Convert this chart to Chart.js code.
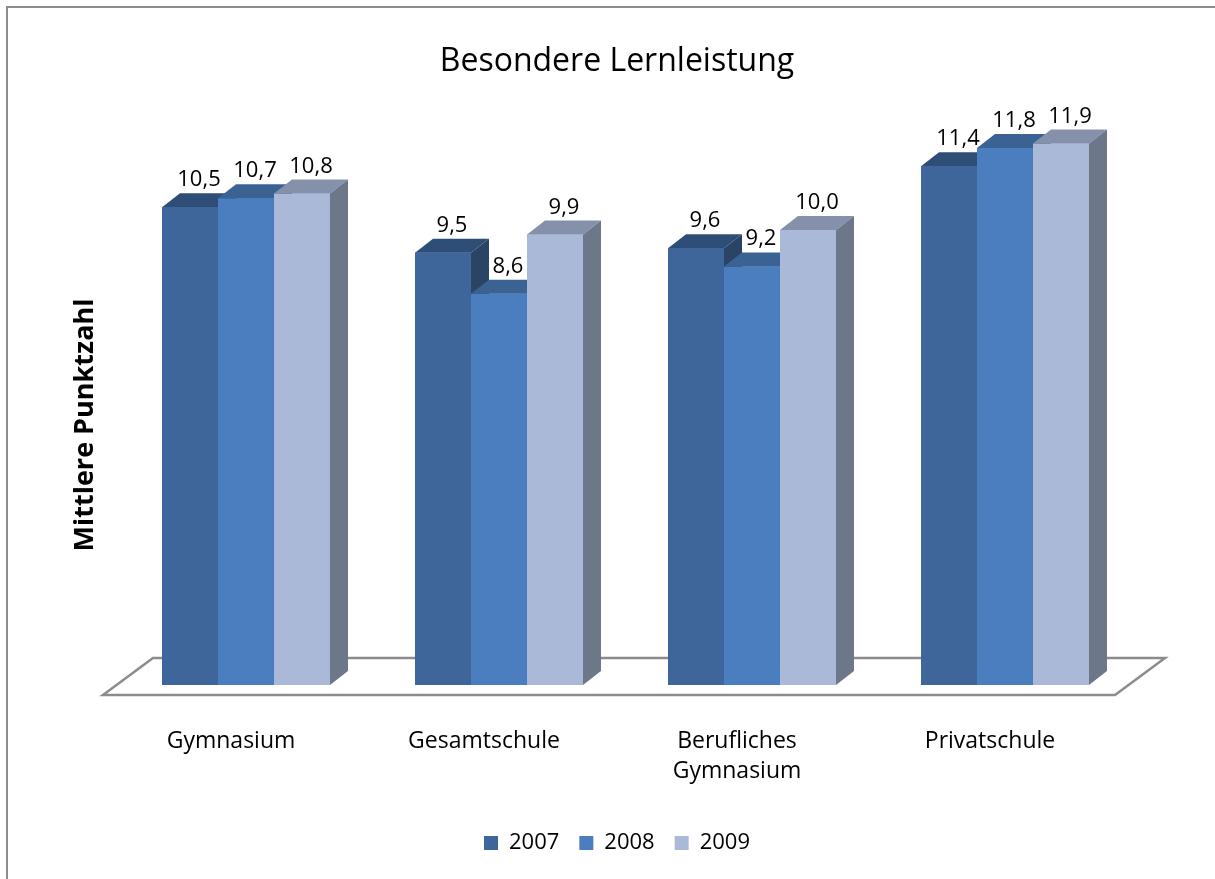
<!DOCTYPE html>
<html>
<head>
<meta charset="utf-8">
<script src="https://cdn.jsdelivr.net/npm/chart.js@4/dist/chart.umd.min.js"></script>
<style>
  body { margin: 0; background: #fff; }
  #wrap { position: relative; width: 1215px; height: 879px; }
  #frame { position: absolute; left: 6px; top: 6px; right: -10px; bottom: -10px;
           border-left: 2px solid #8c8c8c; border-top: 2px solid #8c8c8c; }
  canvas { position: absolute; left: 0; top: 0; }
</style>
</head>
<body>
<div id="wrap">
  <div id="frame"></div>
  <canvas id="chart" width="1215" height="879"></canvas>
</div>
<script>
const schools = ['Gymnasium', 'Gesamtschule', ['Berufliches', 'Gymnasium'], 'Privatschule'];
const years = ['2007', '2008', '2009'];
const v2007 = [10.5, 9.5, 9.6, 11.4];
const v2008 = [10.7, 8.6, 9.2, 11.8];
const v2009 = [10.8, 9.9, 10.0, 11.9];

const front = ['#3e669b', '#4a7ebe', '#aab9d8'];
const top_ = ['#2e4e78', '#3a6393', '#8591ab'];
const side = ['#2a4466', '#34557d', '#6c7889'];

const DX = 18, DY = 14;
const font = 'Open Sans';

// floor, depth faces and value labels
const bars3d = {
    id: 'bars3d',
    beforeDatasetsDraw(chart) {
        const {ctx, chartArea: a} = chart;
        const x0 = a.left - 16.5, x1 = a.right - 16.5, y = a.bottom + 10;
        ctx.save();
        ctx.strokeStyle = '#8c8c8c';
        ctx.lineWidth = 2.5;
        ctx.beginPath();
        ctx.moveTo(x0, y);
        ctx.lineTo(x1, y);
        ctx.lineTo(x1 + 50, y - 37);
        ctx.lineTo(x0 + 50, y - 37);
        ctx.closePath();
        ctx.stroke();
        ctx.restore();
    },
    afterDatasetsDraw(chart) {
        const {ctx} = chart;
        ctx.save();
        // left to right so each bar hides the side of its left neighbour
        chart.data.datasets.forEach((ds, i) => {
            chart.getDatasetMeta(i).data.forEach(bar => {
                bar.draw(ctx);
                const l = bar.x - bar.width / 2, r = bar.x + bar.width / 2;
                const t = bar.y, b = bar.base;
                ctx.fillStyle = top_[i];
                ctx.beginPath();
                ctx.moveTo(l, t); ctx.lineTo(r, t);
                ctx.lineTo(r + DX, t - DY); ctx.lineTo(l + DX, t - DY);
                ctx.closePath(); ctx.fill();
                ctx.fillStyle = side[i];
                ctx.beginPath();
                ctx.moveTo(r, t); ctx.lineTo(r + DX, t - DY);
                ctx.lineTo(r + DX, b - DY); ctx.lineTo(r, b);
                ctx.closePath(); ctx.fill();
            });
        });
        ctx.fillStyle = '#000';
        ctx.font = '22px "' + font + '"';
        ctx.textAlign = 'center';
        ctx.textBaseline = 'alphabetic';
        chart.data.datasets.forEach((ds, i) => {
            chart.getDatasetMeta(i).data.forEach((bar, j) => {
                const txt = ds.data[j].toFixed(1).replace('.', ',');
                ctx.fillText(txt, bar.x + 9, bar.y - DY - 7);
            });
        });
        // y axis title
        ctx.translate(85, 425);
        ctx.rotate(-Math.PI / 2);
        ctx.font = 'bold 27px "' + font + '"';
        ctx.textBaseline = 'middle';
        ctx.fillText('Mittlere Punktzahl', 0, 0);
        ctx.restore();
    }
};

const values = [v2007, v2008, v2009];

new Chart(document.getElementById('chart'), {
    type: 'bar',
    data: {
        labels: schools,
        datasets: years.map((y, i) => ({
            label: y,
            data: values[i],
            backgroundColor: front[i],
            borderWidth: 0
        }))
    },
    options: {
        responsive: false,
        animation: false,
        categoryPercentage: 0.664,
        barPercentage: 1,
        layout: { padding: { top: 10, left: 19, right: 0, bottom: 15 } },
        plugins: {
            title: {
                display: true,
                text: 'Besondere Lernleistung',
                color: '#000',
                font: { family: font, size: 32, weight: 'normal', lineHeight: 1.2 },
                padding: { top: 33, bottom: 12.1 }
            },
            legend: {
                position: 'bottom',
                labels: {
                    color: '#000',
                    font: { family: font, size: 22 },
                    boxWidth: 14,
                    boxHeight: 14,
                    padding: 20
                }
            },
            tooltip: { enabled: false }
        },
        scales: {
            x: {
                grid: { display: false, drawTicks: false },
                border: { display: false },
                ticks: {
                    color: '#000',
                    font: { family: font, size: 23, lineHeight: 1.3 },
                    padding: 42,
                    labelOffset: -15,
                    maxRotation: 0
                },
                afterFit: s => { s.height = 127; }
            },
            y: {
                min: 0,
                max: 13,
                grid: { display: false, drawTicks: false },
                border: { display: false },
                ticks: { display: false },
                afterFit: s => { s.width = 100.5; }
            },
            yRight: {
                position: 'right',
                grid: { display: false, drawTicks: false },
                border: { display: false },
                ticks: { display: false },
                afterFit: s => { s.width = 83.5; }
            }
        }
    },
    plugins: [bars3d]
});
</script>
</body>
</html>
